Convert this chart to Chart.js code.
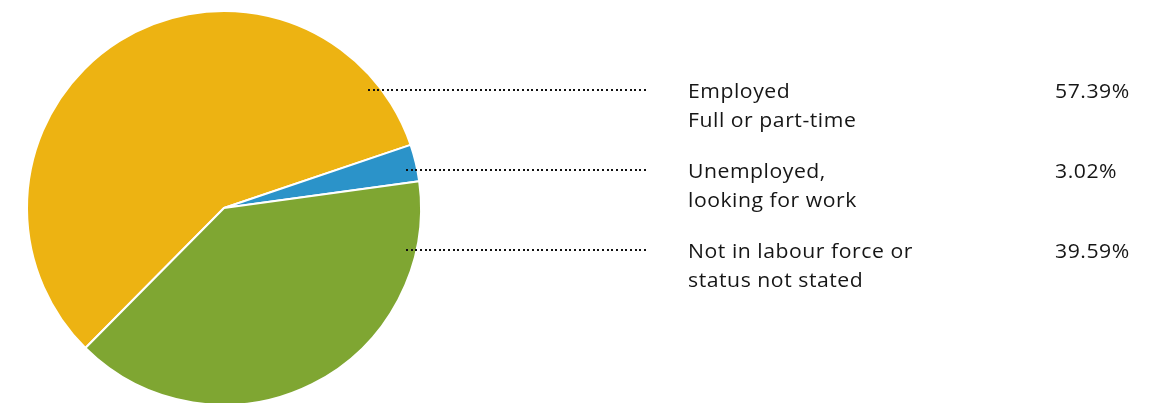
<!DOCTYPE html>
<html>
<head>
<meta charset="utf-8">
<script src="https://cdn.jsdelivr.net/npm/chart.js@4/dist/chart.umd.min.js"></script>
<style>
    html, body { margin: 0; padding: 0; background: #fff; overflow: hidden; }
    #wrap { position: relative; width: 1166px; height: 416px; }
</style>
</head>
<body>
<div id="wrap"><canvas id="labourCanvas" width="1166" height="416"></canvas></div>
<script>
const categories = [
    ['Employed', 'Full or part-time'],
    ['Unemployed,', 'looking for work'],
    ['Not in labour force or', 'status not stated']
];
const percentages = [57.39, 3.02, 39.59];
const valueLabels = ['57.39%', '3.02%', '39.59%'];
const sliceColors = ['#EDB312', '#2B93C9', '#7FA632'];

// leader line rows: y position and where each line starts on the pie
const leaderRows = [90, 170, 250];
const leaderStarts = [369, 407, 407];

const textFont = '20px "Open Sans", sans-serif';
const textStretch = 1.06;   // slightly wider glyphs

function wideText(ctx, text, x, y) {
    ctx.save();
    ctx.translate(x, y);
    ctx.scale(textStretch, 1);
    ctx.fillText(text, 0, 0);
    ctx.restore();
}

// draws the dotted leader lines plus the label / value columns
const sideLabelsPlugin = {
    id: 'sideLabels',
    afterDraw(chart) {
        const ctx = chart.ctx;
        ctx.save();
        ctx.fillStyle = '#111111';
        leaderRows.forEach((y, i) => {
            for (let x = leaderStarts[i]; x <= 649; x += 4.67) {
                ctx.fillRect(Math.round(x) - 1, y - 1, 2, 2);
            }
        });
        ctx.fillStyle = '#161616';
        ctx.font = textFont;
        ctx.letterSpacing = '0.5px';
        ctx.textBaseline = 'alphabetic';
        ctx.textAlign = 'left';
        const baselines = [98, 178, 258];
        categories.forEach((lines, i) => {
            lines.forEach((line, j) => {
                wideText(ctx, line, 688, baselines[i] + j * 28.5);
            });
            wideText(ctx, valueLabels[i], 1055, baselines[i]);
        });
        ctx.restore();
    }
};

new Chart(document.getElementById('labourCanvas'), {
    type: 'pie',
    data: {
        labels: categories.map(c => c.join(' ')),
        datasets: [{
            data: percentages,
            backgroundColor: sliceColors,
            borderColor: '#ffffff',
            borderWidth: 2
        }]
    },
    options: {
        responsive: false,
        animation: false,
        rotation: 224.7,
        layout: { padding: { left: 26, right: 744, top: 10, bottom: 10 } },
        plugins: {
            legend: { display: false },
            tooltip: { enabled: false }
        }
    },
    plugins: [sideLabelsPlugin]
});
</script>
</body>
</html>
